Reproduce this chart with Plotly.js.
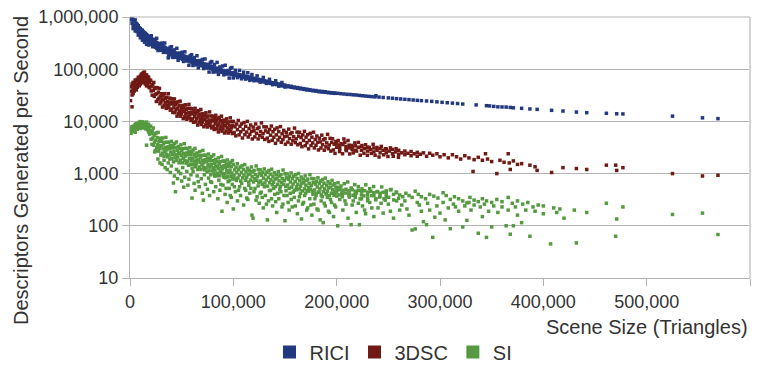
<!DOCTYPE html>
<html><head><meta charset="utf-8">
<script src="https://cdn.plot.ly/plotly-3.0.1.min.js"></script>
<style>html,body{margin:0;padding:0;background:#fff}#chart{width:781px;height:365px}</style>
</head><body><div id="chart"></div>
<script>
// Scene size is given in thousands of triangles; descriptors per second as-is.
const seriesNames = ['RICI', '3DSC', 'SI'];
const seriesColors = ['#23397f', '#701915', '#559a40'];
const xTickVals = [0, 100, 200, 300, 400, 500, 600];
const xTickText = ['0', '100,000', '200,000', '300,000', '400,000', '500,000', '600,000'];
const yTickVals = [10, 100, 1000, 10000, 100000, 1000000];
const yTickText = ['10', '100', '1,000', '10,000', '100,000', '1,000,000'];
const xTitle = 'Scene Size (Triangles)';
const yTitle = 'Descriptors Generated per Second';

const riciPoints = [
[1,1000000],[1,880000],[2,950000],[2,760000],[3,900000],[3,700000],[3,600000],[4,820000],[4,680000],[5,880000],[5,640000],[5,540000],[6,760000],[6,600000],[7,720000],[7,520000],[7,640000],[8,680000],[8,560000],[8,450000],[9,620000],[9,480000],[9,540000],[10,600000],[10,470000],[10,400000],[11,560000],[11,440000],[11,500000],[12,560000],[12,420000],[12,360000],[13,520000],[13,410000],[13,470000],[14,500000],[14,380000],[14,330000],[15,480000],[15,420000],[15,350000],[16,460000],[16,370000],[16,300000],[17,440000],[17,350000],[17,400000],[18,420000],[18,330000],[18,290000],[19,410000],[19,340000],[19,300000],[20,400000],[20,320000],[20,360000],[21,380000],[21,300000],[21,340000],[22,370000],[22,310000],[22,280000],[23,350000],[23,300000],[23,330000],[24,345000],[24,280000],[24,310000],[25,330000],[25,270000],[25,300000],[26,320000],[26,280000],[26,250000],[27,310000],[27,270000],[27,290000],[28,300000],[28,250000],[28,275000],[29,290000],[29,240000],[29,265000],[30,300000],[30,255000],[30,230000],[31,280000],[31,240000],[32,275000],[32,235000],[32,255000],[33,265000],[33,225000],[34,260000],[34,220000],[34,245000],[35,250000],[35,215000],[36,245000],[36,210000],[36,230000],[37,165000],[37,235000],[37,205000],[38,240000],[38,200000],[39,230000],[39,195000],[39,215000],[40,228000],[40,190000],[41,220000],[41,200000],[42,215000],[42,185000],[43,210000],[43,180000],[43,195000],[44,205000],[44,178000],[45,200000],[45,172000],[46,198000],[46,180000],[47,190000],[47,165000],[48,192000],[48,170000],[49,185000],[49,160000],[50,188000],[50,165000],[51,178000],[51,155000],[52,180000],[52,160000],[53,172000],[53,150000],[54,175000],[54,155000],[55,165000],[55,148000],[56,168000],[56,145000],[57,160000],[58,162000],[58,140000],[59,155000],[60,158000],[60,135000],[61,148000],[62,150000],[62,132000],[63,142000],[64,146000],[64,128000],[65,138000],[66,140000],[66,124000],[67,134000],[68,136000],[68,120000],[69,128000],[70,132000],[70,116000],[71,124000],[72,126000],[72,112000],[73,120000],[74,122000],[74,108000],[75,116000],[76,118000],[76,106000],[77,112000],[78,115000],[78,103000],[79,108000],[80,112000],[80,100000],[82,106000],[82,97000],[84,104000],[84,95000],[86,100000],[86,92000],[88,98000],[88,90000],[90,95000],[90,87000],[92,93000],[92,86000],[94,90000],[94,83000],[96,89000],[96,81000],[98,86000],[98,80000],[100,85000],[100,78000],[102,83000],[102,76000],[104,80000],[104,75000],[106,78000],[106,73000],[108,77000],[108,71000],[110,75000],[110,70000],[112,73000],[112,68000],[114,72000],[114,67000],[116,70000],[116,65000],[118,68000],[118,64000],[120,67000],[120,62500],[122,65000],[122,61500],[124,64000],[124,60000],[126,63000],[126,59000],[128,61000],[128,58000],[130,60000],[130,57000],[132,59000],[132,55500],[134,57500],[134,54500],[136,56000],[136,53500],[138,55000],[138,52500],[140,54000],[140,51500],[142,53000],[142,50500],[144,52000],[144,49500],[146,51000],[146,48500],[148,50000],[148,48000],[150,49500],[150,47000],[153,48000],[153,46000],[156,47000],[156,45000],[159,45500],[159,44000],[162,44500],[162,43000],[165,43500],[165,42000],[168,42500],[168,41000],[171,41500],[171,40000],[174,40500],[174,39500],[177,39500],[177,38500],[180,39000],[180,38000],[183,38000],[183,37000],[186,37500],[186,36500],[189,37000],[189,36000],[192,36000],[192,35500],[195,35500],[195,35000],[198,35000],[198,34500],[201,34500],[204,34000],[207,33500],[210,33000],[213,32800],[216,32300],[219,32000],[222,31500],[225,31000],[228,30600],[231,30200],[234,29800],[237,29500],[238,31000],[241,29200],[245,28700],[250,28200],[254,27800],[258,27300],[262,26900],[266,26500],[270,26100],[274,25700],[278,25300],[282,25000],[287,24600],[292,24200],[297,23700],[302,23200],[307,22800],[312,22400],[317,22000],[322,21500],[335,20700],[345,20000],[348,19800],[352,19400],[356,19000],[360,18900],[364,18800],[368,18500],[371,18200],[379,17800],[387,17300],[394,17000],[408,16300],[419,15800],[432,15100],[442,14700],[461,14300],[471,14000],[477,13900],[525,12600],[554,11700],[569,11300],
[20.6,437000],[21.9,270000],[23.2,371000],[24.5,264000],[25.8,391000],[27.1,228000],[28.4,310000],[29.7,245000],[31.0,317000],[32.3,210000],[33.6,317000],[34.9,213000],[36.2,247000],[37.5,173000],[38.8,262000],[40.1,270000],[41.4,168000],[42.7,235000],[44.0,169000],[45.3,252000],[46.6,148000],[47.9,204000],[49.2,163000],[50.5,211000],[51.8,141000],[53.1,215000],[54.4,145000],[55.7,169000],[57.0,119000],[58.3,182000],[59.6,189000],[60.9,118000],[62.2,167000],[63.5,121000],[64.8,181000],[66.1,106000],[67.4,146000],[68.7,118000],[70.0,154000],[71.3,103000],[72.6,157000],[73.9,106000],[75.2,124000],[76.5,88000],[77.8,135000],[79.1,140000],[80.4,88000],[81.7,123000],[83.0,89000],[84.3,135000],[85.6,79500],[86.9,110000],[88.2,88000],[89.5,115000],[90.8,78000],[92.1,119000],[93.4,81000],[94.7,94500],[96.0,67600],[97.3,104000],[98.6,107500],[99.9,68000],[102,95500],[104,69000],[106,95000],[108,65500],[110,87500],[112,64500],[114,85500],[116,61000],[118,79000],[120,60000],[123,74500],[126,56500],[129,69500],[132,53500],[135,64000],[138,50500],[141,60000],[144,47300],[147,55600],[150,45500]
];

const dscPoints = [
[0.5,25000],[1,38000],[1,46000],[2,19000],[2,32000],[2,52000],[3,42000],[3,56000],[3,34000],[4,48000],[4,38000],[5,55000],[5,44000],[5,62000],[6,50000],[6,40000],[7,64000],[7,52000],[7,45000],[8,60000],[8,70000],[8,50000],[9,56000],[9,66000],[9,48000],[10,74000],[10,62000],[10,52000],[11,68000],[11,57000],[11,80000],[12,82000],[12,64000],[12,55000],[13,72000],[13,60000],[13,86000],[14,88000],[14,68000],[14,56000],[15,75000],[15,62000],[15,52000],[16,78000],[16,58000],[16,48000],[17,66000],[17,52000],[17,72000],[18,60000],[18,46000],[18,70000],[19,55000],[19,44000],[19,62000],
[20.0,61000],[20.5,38300],[21.0,47300],[21.5,31800],[22.0,50300],[22.5,39400],[23.0,55800],[23.5,30100],[24.0,42400],[24.5,33000],[25.0,44500],[25.5,24100],[26.0,33800],[26.5,44000],[27.0,25800],[27.5,36300],[28.0,27900],[28.5,42900],[29.0,21800],[29.5,30400],[30.0,23500],[30.5,33900],[31.0,26100],[31.5,18800],[32.0,30700],[32.5,26100],[33.0,20100],[33.5,34000],[34.0,23000],[34.5,27700],[35.0,17800],[35.5,28900],[36.0,20500],[36.5,24000],[37.0,33900],[37.5,18500],[38.0,21400],[38.5,28000],[39.0,16400],[39.5,23300],[40.0,27100],[40.5,17200],[41.0,21600],[41.5,14800],[42.0,23600],[42.5,18700],[43.0,27000],[43.5,14800],[44.0,21100],[44.5,16700],[45.0,22900],[45.5,12600],[46.0,17900],[46.5,23700],[47.0,14100],[47.5,20100],[48.0,15700],[48.5,24400],[49.0,12600],[49.5,17800],[50.0,13900],[50.5,20200],[51.0,15600],[51.5,11300],[52.0,18400],[52.5,15800],[53.0,12200],[53.5,20800],[54.0,14100],[54.5,17000],[55.0,11000],[55.5,17900],[56.0,12600],[56.5,14900],[57.0,21200],[57.5,11600],[58.0,13500],[58.5,17800],[59.0,10400],[59.5,14900],[60.0,17400],[60.5,11200],[61.0,14000],[61.5,9650],[62.0,15400],[62.5,12300],[63.0,17800],[63.5,9800],[64.0,14100],[64.5,11200],[65.0,15400],[65.5,8500],[66.0,12200],[66.5,16100],[67.0,9640],[67.5,13800],[68.0,10800],[68.5,16900],[69.0,8730],[69.5,12400],[70.0,9740],[70.5,14100],[71.0,10900],[71.5,7910],[72.0,13000],[72.5,11100],[73.0,8580],[73.5,14600],[74.0,10000],[74.5,12100],[75.0,7810],[75.5,12700],[76.0,9030],[76.5,10600],[77.0,15200],[77.5,8340],[78.0,9690],[78.5,12700],[79.0,7500],[79.5,10700],[80.0,12600],[80.5,8070],[81.0,10200],[81.5,7000],[82.0,11300],[82.5,9020],[83.0,13100],[83.5,7200],[84.0,10400],[84.5,8240],[85.0,11300],[85.5,6280],[86.0,9000],[86.5,11900],[87.0,7160],[87.5,10300],[88.0,8050],[88.5,12600],[89.0,6530],[89.5,9290],[90.0,7310],[90.5,10600],[91.0,8260],[91.5,5990],[92.0,9860],[92.5,8450],[93.0,6550],[93.5,11200],[94.0,7640],[94.5,9240],[95.0,5990],[95.5,9780],[96.0,6970],[96.5,8210],[97.0,11700],[97.5,6440],[98.0,7510],[98.5,9890],[99.0,5850],[99.5,8370],
[100.0,10000],[100.8,6120],[101.6,7900],[102.4,5290],[103.2,8930],[104.0,6940],[104.8,10400],[105.6,5520],[106.4,8050],[107.2,6320],[108.0,8950],[108.8,4810],[109.6,6990],[110.4,9490],[111.2,5560],[112.0,8050],[112.8,6260],[113.6,10000],[114.4,5020],[115.2,7320],[116.0,5640],[116.8,8520],[117.6,6450],[118.4,4610],[119.2,7770],[120.0,6600],[120.8,5050],[121.6,8930],[122.4,5900],[123.2,7280],[124.0,4610],[124.8,7700],[125.6,5370],[126.4,6410],[127.2,9360],[128.0,4960],[128.8,5850],[129.6,7890],[130.4,4500],[131.2,6590],[132.0,7830],[132.8,4780],[133.6,6190],[134.4,4140],[135.2,7000],[136.0,5440],[136.8,8150],[137.6,4340],[138.4,6330],[139.2,4980],[140.0,7070],[140.8,3800],[141.6,5530],[142.4,7500],[143.2,4400],[144.0,6370],[144.8,4960],[145.6,7950],[146.4,3980],[147.2,5800],[148.0,4470],[148.8,6740],[149.6,5110],[150.4,3660],[151.2,6170],[152.0,5240],[152.8,4010],[153.6,7100],[154.4,4690],[155.2,5790],[156.0,3660],[156.8,6110],[157.6,4270],[158.4,5090],[159.2,7440],[160.0,3920],[160.8,4630],[161.6,6240],[162.4,3570],[163.2,5220],[164.0,6190],[164.8,3780],[165.6,4900],[166.4,3280],[167.2,5530],[168.0,4300],[168.8,6440],[169.6,3430],[170.4,4990],[171.2,3920],[172.0,5560],[172.8,2980],[173.6,4330],[174.4,5900],[175.2,3450],[176.0,4990],[176.8,3880],[177.6,6210],[178.4,3100],[179.2,4530],[180.0,3490],[180.8,5250],[181.6,3970],[182.4,2840],[183.2,4770],[184.0,4050],[184.8,3100],[185.6,5450],[186.4,3590],[187.2,4430],[188.0,2800],[188.8,4670],[189.6,3260],[190.4,3880],[191.2,5650],[192.0,2990],[192.8,3520],[193.6,4750],[194.4,2700],[195.2,3950],[196.0,4650],[196.8,2840],[197.6,3660],[198.4,2440],[199.2,4120],
[201.5,4300],[202.8,2640],[204.3,3760],[205.7,2400],[207.9,3960],[209.4,2750],[211.0,4300],[212.6,2380],[214.1,3460],[216.0,2490],[217.6,3870],[219.3,2700],[221.0,3960],[222.8,2250],[224.5,3450],[226.4,2450],[228.0,3570],[229.7,2240],[231.6,3170],[233.5,2440],[235.3,3640],[237.2,2250],[239.0,3170],[241.0,2080],[243.2,3320],[245.5,2290],[247.3,3000],[249.6,2130],[252.0,3110],[254.8,2150],[257.5,3000],[259.8,2050],
[200,3700],[200,3200],[203,3500],[203,3000],[206,3600],[207,4600],[209,3300],[209,2900],[212,3500],[212,3100],[215,3300],[215,2900],[218,3400],[218,2800],[221,3200],[224,3300],[224,2800],[227,3000],[230,3200],[230,2700],[233,2900],[236,3100],[236,2600],[239,2800],[242,3000],[242,2500],[245,2800],[248,2950],[248,2500],[251,2700],[254,2900],[254,2400],[257,2600],[260,2800],[260,2350],[263,2500],[266,2700],[266,2300],[269,2450],[272,2650],[272,2200],[275,2400],[278,2550],[278,2150],[281,2350],[284,2500],[287,2150],[290,2450],[293,2250],[297,2400],[300,2100],[304,2300],[308,2000],[312,2300],[316,2100],[320,1900],[324,2200],[328,2000],[332,1100],[333,1850],[337,2050],[341,1800],[344,2400],[346,1900],[350,1700],[355,1000],[358,1800],[362,1650],[366,2400],[367,1600],[368,1200],[371,1750],[375,1500],[379,1550],[387,1450],[392,1350],[394,1150],[408,1050],[419,1300],[432,1250],[442,1200],[461,1450],[470,1450],[471,1150],[477,1300],[525,1000],[554,900],[569,930]
];

const siBandPoints = [
[0.5,6500],[1,7400],[1,5900],[2,6900],[2,8000],[3,6500],[3,7500],[4,8100],[4,6800],[5,7300],[5,8700],[5,6200],[6,7800],[6,9000],[7,8300],[7,7100],[8,9200],[8,7600],[9,8300],[9,9600],[10,8700],[10,7300],[10,9900],[11,9200],[11,7900],[12,9800],[12,8300],[13,8900],[13,7500],[14,9500],[14,8100],[15,8800],[15,7200],[16,9700],[16,7900],[17,8300],[17,6900],[18,7600],[18,6300],[18,8800],[19,6800],[19,5700],
[20.0,8100],[20.4,4560],[20.9,5930],[21.3,3630],[21.6,6590],[22.1,4780],[22.5,7470],[22.8,3510],[23.3,5380],[23.7,4000],[24.2,5820],[24.6,2760],[25.0,4310],[25.5,6020],[25.9,3170],[26.3,4900],[26.8,3560],[27.2,6170],[27.6,2690],[28.1,4100],[28.5,3030],[29.0,4760],[29.4,3420],[29.8,2260],[30.3,4160],[30.7,3430],[31.2,2470],[31.6,4810],[32.0,2970],[32.5,3740],[32.9,2150],[33.4,3960],[33.8,2610],[34.2,3170],[34.7,4930],[35.1,2350],[35.6,2840],[36.0,3990],[36.4,2090],[36.9,3250],[37.3,3960],[37.8,2260],[38.2,3020],[38.6,1890],[39.1,3450],[39.5,2590],[40.0,4140],[40.4,1970],[40.9,3090],[41.3,2340],[41.8,3490],[42.2,1680],[42.6,2650],[43.1,3750],[43.5,2000],[44.0,3120],[44.4,2310],[44.9,4030],[45.3,1790],[45.8,2790],[46.2,2080],[46.7,3320],[47.1,2410],[47.5,1610],[48.0,3000],[48.4,2490],[48.9,1810],[49.3,3560],[49.8,2210],[50.2,2800],[50.7,1610],[51.1,2990],[51.6,1970],[52.0,2410],[52.5,3740],[52.9,1790],[53.4,2160],[53.8,3050],[54.3,1590],[54.7,2490],[55.2,3020],[55.6,1730],[56.1,2310],[56.5,1440],[57.0,2640],[57.4,1970],[57.9,3140],[58.3,1500],[58.8,2340],[59.2,1760],[59.7,2640],[60.1,1270],[60.6,1990],[61.0,2830],[61.5,1500],[62.0,2350],[62.4,1740],[62.9,3040],[63.3,1350],[63.8,2080],[64.2,1560],[64.7,2480],[65.1,1800],[65.6,1200],[66.0,2240],[66.5,1860],[66.9,1340],[67.4,2640],[67.8,1640],[68.3,2070],[68.7,1200],[69.2,2230],[69.6,1470],[70.1,1790],[70.5,2780],[71.0,1320],[71.4,1610],[71.9,2260],[72.3,1180],[72.8,1840],[73.2,2240],[73.7,1290],[74.1,1720],[74.6,1080],[75.0,1980],[75.5,1480],[75.9,2370],[76.4,1130],[76.8,1770],[77.3,1330],[77.7,1980],[78.2,950],[78.6,1500],[79.1,2130],[79.5,1130],[80.0,1770],[80.5,1310],[81.0,2290],[81.4,1010],[81.9,1580],[82.3,1170],[82.8,1870],[83.2,1360],[83.7,910],[84.1,1690],[84.6,1400],[85.0,1020],[85.5,2000],[85.9,1240],[86.4,1580],[86.8,910],[87.3,1690],[87.7,1110],[88.2,1360],[88.6,2130],[89.1,1020],[89.5,1230],[90.0,1740],[90.5,910],[91.0,1420],[91.4,1730],[91.9,990],[92.3,1320],[92.8,830],[93.2,1530],[93.7,1140],[94.1,1820],[94.6,870],[95.0,1370],[95.5,1030],[95.9,1540],[96.4,740],[96.8,1170],[97.3,1650],[97.7,880],[98.2,1370],[98.6,1020],[99.1,1780],[99.5,790],
[100.0,1500],[100.6,910],[101.3,1180],[101.9,790],[102.6,1330],[103.2,1040],[103.9,1550],[104.5,825],[105.2,1200],[105.8,940],[106.5,1330],[107.1,720],[107.8,1040],[108.4,1410],[109.1,830],[109.7,1200],[110.4,930],[111.0,1490],[111.7,745],[112.3,1090],[113.0,840],[113.6,1270],[114.3,960],[114.9,690],[115.6,1160],[116.2,985],[116.9,755],[117.5,1340],[118.2,880],[118.8,1085],[119.5,690],[120.1,1150],[120.8,800],[121.4,960],[122.1,1400],[122.7,745],[123.4,880],[124.0,1190],[124.7,680],[125.3,995],[126.0,1180],[126.6,720],[127.3,930],[127.9,625],[128.6,1060],[129.2,820],[129.9,1230],[130.5,660],[131.2,960],[131.8,755],[132.5,1070],[133.1,575],[133.8,840],[134.4,1145],[135.1,670],[135.7,975],[136.4,760],[137.0,1215],[137.7,610],[138.3,890],[139.0,685],[139.6,1035],[140.3,785],[140.9,565],[141.6,950],[142.2,810],[142.9,620],[143.5,1095],[144.2,725],[144.8,900],[145.5,570],[146.1,955],[146.8,670],[147.4,800],[148.1,1170],[148.7,620],[149.4,735],[150.0,990],[150.7,565],[151.3,830],[152.0,985],[152.6,605],[153.3,780],[153.9,520],[154.6,885],[155.2,690],[155.9,1030],[156.5,550],[157.2,800],[157.8,630],[158.5,895],[159.1,480],[159.8,700],[160.4,950],[161.1,555],[161.7,805],[162.4,625],[163.0,1005],[163.7,505],[164.3,735],[165.0,570],[165.6,860],[166.3,650],[166.9,465],[167.6,785],[168.2,670],[168.9,510],[169.5,905],[170.2,600],[170.8,740],[171.5,470],[172.1,785],[172.8,545],[173.4,655],[174.1,955],[174.7,505],[175.4,595],[176.0,805],[176.7,460],[177.3,670],[178.0,795],[178.6,485],[179.3,630],[179.9,420],[180.6,710],[181.2,555],[181.9,830],[182.5,440],[183.2,645],[183.8,510],[184.5,720],[185.1,390],[185.8,565],[186.4,770],[187.1,450],[187.7,655],[188.4,510],[189.0,820],[189.7,410],[190.3,600],[191.0,460],[191.6,700],[192.3,530],[192.9,380],[193.6,640],[194.2,545],[194.9,420],[195.5,740],[196.2,490],[196.8,605],[197.5,385],[198.1,640],[198.8,445],[199.4,535],
[201.3,670],[202.6,390],[204.2,580],[205.6,360],[207.4,640],[209.0,425],[210.7,690],[212.3,355],[214.0,530],[215.8,385],[217.5,615],[219.2,425],[221.0,565],[222.7,328],[224.5,510],[226.3,375],[228.2,610],[230.0,338],[232.0,515],[233.9,380],[235.8,565],[237.7,315],[239.6,452],[241.5,355],[243.6,555],[245.8,330],[248.0,467],[250.3,352],[252.7,495],[255.2,313],[257.6,445],[259.9,336],
[200,500],[200,430],[200,550],[203,490],[203,540],[206,480],[206,420],[209,500],[212,470],[212,410],[215,490],[218,460],[218,400],[221,480],[224,450],[224,390],[227,470],[230,440],[230,390],[233,460],[236,430],[236,380],[239,450],[242,420],[242,370],[245,440],[248,410],[248,360],[252,490],[255,400],[258,430],[261,390],[264,360],[267,420],[270,380],[273,350],[276,460],[279,400],[282,360],[286,330],[290,400],[294,370],[298,340],[303,430],[306,380],[310,320],[314,360],[318,330],[322,300],[326,275],[329,350],[333,310],[337,290],[341,330],[345,300],[350,280],[355,320],[360,290],[366,350],[370,270],[375,300],[380,260],[385,280],[390,230],[395,250],[400,240],[410,220],[416,210],[430,200],[442,180],[461,270],[477,230],[471,135],[525,165],[554,175]
];

const siLowPoints = [
[16,3500],[24,2600],[27,1900],[29,1600],[31,1500],[33,1800],[34,1300],[36,1200],[37,1600],[39,1050],[40,1400],[42,660],[43,900],[44,450],[45,1200],[46,800],[47,1100],[49,1000],[50,720],[51,1300],[52,550],[53,850],[55,1100],[56,600],[57,780],[59,950],[60,340],[61,1100],[62,650],[63,480],[65,900],[66,700],[67,560],[69,800],[70,420],[71,310],[72,950],[73,620],[75,500],[76,820],[77,380],[78,700],[79,680],[81,450],[82,900],[83,560],[85,330],[86,750],[87,480],[88,620],[89,190],[90,600],[91,850],[92,400],[93,520],[94,280],[95,700],[96,520],[97,380],[98,350],[99,620],[100,210],[101,560],[102,450],[103,740],[104,300],[105,480],[106,560],[107,380],[108,650],[110,250],[111,520],[112,480],[113,340],[114,320],[115,600],[116,420],[117,520],[118,160],[119,140],[120,450],[121,520],[122,310],[123,360],[124,580],[125,270],[126,420],[127,440],[128,350],[129,220],[130,560],[131,380],[132,260],[133,130],[134,300],[135,470],[136,480],[137,330],[138,240],[139,520],[140,400],[141,290],[142,180],[143,420],[144,330],[145,500],[146,450],[147,230],[148,260],[149,380],[150,125],[151,470],[152,380],[153,280],[154,200],[155,420],[156,320],[157,230],[158,440],[159,350],[160,240],[161,490],[162,170],[163,300],[164,360],[165,420],[166,135],[167,260],[168,280],[169,380],[170,420],[171,200],[172,220],[173,460],[174,330],[175,250],[176,160],[177,400],[178,260],[179,330],[180,380],[181,210],[182,200],[183,440],[184,130],[185,300],[186,360],[187,115],[188,270],[189,240],[190,410],[191,350],[192,190],[193,180],[194,320],[195,280],[196,420],[197,150],[198,250],[199,230],[200,370],[201,100],[203,320],[205,420],[206,200],[208,300],[209,260],[211,140],[212,380],[214,105],[215,250],[216,300],[218,350],[219,180],[221,270],[222,105],[224,330],[225,240],[227,200],[228,170],[230,300],[232,280],[234,220],[236,150],[238,330],[240,220],[243,270],[245,175],[247,310],[250,260],[252,190],[255,140],[258,300],[261,200],[263,250],[266,300],[268,210],[270,160],[273,83],[276,87],[278,280],[280,250],[282,190],[284,120],[287,105],[288,270],[290,200],[293,60],[295,146],[297,240],[300,175],[303,280],[305,130],[308,220],[310,88],[313,260],[315,230],[318,190],[322,95],[324,240],[326,127],[328,280],[330,200],[333,250],[337,72],[339,230],[341,150],[343,260],[345,60],[347,190],[350,95],[352,240],[356,180],[360,230],[364,100],[366,200],[368,69],[371,100],[373,230],[375,160],[379,115],[383,200],[387,63],[392,190],[400,170],[407,45],[413,180],[420,140],[432,47],[470,63],[569,68]
];

const allPoints = [riciPoints, dscPoints, siBandPoints.concat(siLowPoints)];

const traces = [];
allPoints.forEach((pts, i) => {
  traces.push({
    type: 'scatter', mode: 'markers', name: seriesNames[i], showlegend: false,
    x: pts.map(p => p[0]), y: pts.map(p => p[1]),
    marker: { symbol: 'square', size: 3.5, color: seriesColors[i] },
    hoverinfo: 'skip'
  });
});
seriesNames.forEach((n, i) => {
  traces.push({
    type: 'scatter', mode: 'markers', name: n, showlegend: true,
    x: [null], y: [null],
    marker: { symbol: 'square', size: 13, color: seriesColors[i] }
  });
});

const axisGray = '#b3b3b3';
const layout = {
  width: 781, height: 365,
  margin: { l: 130, r: 31, t: 17, b: 87, autoexpand: false },
  paper_bgcolor: '#ffffff', plot_bgcolor: '#ffffff',
  font: { family: '"Liberation Sans", Arial, sans-serif', size: 18, color: '#333333' },
  showlegend: true,
  legend: {
    orientation: 'h', xref: 'paper', yref: 'paper',
    x: 0.425, xanchor: 'center', y: -0.2835, yanchor: 'middle',
    font: { size: 20, color: '#333333' }, bgcolor: 'rgba(0,0,0,0)', traceorder: 'normal'
  },
  xaxis: {
    range: [0, 600], tickvals: xTickVals, ticktext: xTickText,
    ticks: 'outside', ticklen: 7, tickcolor: axisGray, tickwidth: 1,
    showline: true, linecolor: axisGray, linewidth: 1,
    showgrid: false, zeroline: false, tickfont: { size: 18 }
  },
  yaxis: {
    type: 'log', range: [1, 6], tickvals: yTickVals, ticktext: yTickText,
    ticks: 'outside', ticklen: 7, tickcolor: axisGray, tickwidth: 1,
    showline: true, linecolor: axisGray, linewidth: 1,
    showgrid: true, gridcolor: axisGray, gridwidth: 1, zeroline: false, tickfont: { size: 18 }
  },
  shapes: [
    { type: 'line', xref: 'paper', yref: 'paper', x0: 1, x1: 1, y0: 0, y1: 1, line: { color: '#d4d4d4', width: 2 } },
    { type: 'line', xref: 'paper', yref: 'paper', x0: 0, x1: 1, y0: 1, y1: 1, line: { color: axisGray, width: 1 } }
  ],
  annotations: [
    { text: xTitle, xref: 'paper', yref: 'paper', x: 1, xanchor: 'right', y: -0.1877, yanchor: 'middle', showarrow: false, font: { size: 20, color: '#333333' } },
    { text: yTitle, xref: 'paper', yref: 'paper', x: -0.1758, xanchor: 'center', y: 0.41, yanchor: 'middle', textangle: -90, showarrow: false, font: { size: 20, color: '#333333' } }
  ]
};

Plotly.newPlot('chart', traces, layout, { displayModeBar: false, staticPlot: true });
</script>
</body></html>
